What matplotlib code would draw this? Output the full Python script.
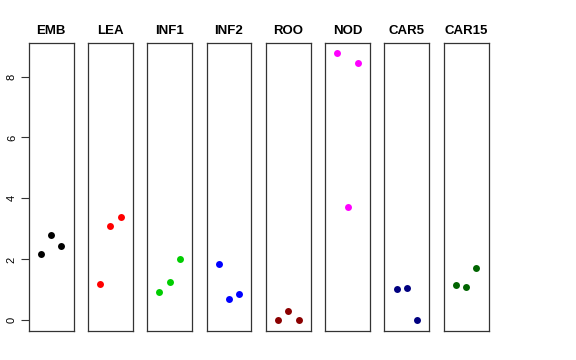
import matplotlib
matplotlib.use("Agg")
import matplotlib.pyplot as plt

plt.rcParams['font.family'] = ['Liberation Sans', 'DejaVu Sans']

categories = ["EMB", "LEA", "INF1", "INF2", "ROO", "NOD", "CAR5", "CAR15"]
colors = ["#000000", "#FF0000", "#00CD00", "#0000FF", "#8B0000", "#FF00FF", "#000080", "#006400"]
values = {
    "EMB": [2.17, 2.79, 2.45],
    "LEA": [1.20, 3.11, 3.40],
    "INF1": [0.92, 1.26, 2.00],
    "INF2": [1.85, 0.70, 0.85],
    "ROO": [0.00, 0.31, 0.00],
    "NOD": [8.76, 3.71, 8.44],
    "CAR5": [1.02, 1.05, 0.00],
    "CAR15": [1.17, 1.09, 1.72],
}
xpos = [1, 2, 3]
yticks = [0, 2, 4, 6, 8]

W, H = 576, 360
fig = plt.figure(figsize=(W / 100, H / 100), dpi=100)

left0 = 28.7
pw = 44.8
step = 59.3
top, bottom = 43, 331

for i, (cat, col) in enumerate(zip(categories, colors)):
    x0 = left0 + i * step
    ax = fig.add_axes([x0 / W, 1 - bottom / H, pw / W, (bottom - top) / H])
    ax.plot(xpos, values[cat], "o", color=col, markersize=5.0, markeredgewidth=0)
    ax.set_xlim(-0.17, 4.18)
    ax.set_ylim(-0.35, 9.1)
    ax.set_xticks([])
    ax.set_title(cat, fontsize=9.5, fontweight="bold", pad=6.5)
    for s in ax.spines.values():
        s.set_color("#333333")
        s.set_linewidth(0.9)
    if i == 0:
        ax.set_yticks(yticks)
        ax.set_yticklabels([str(t) for t in yticks], rotation=90, va="center", fontsize=8)
        ax.tick_params(axis="y", length=5.5, width=0.8, pad=3, color="#333333")
    else:
        ax.set_yticks([])

fig.savefig("out.png", dpi=100)
